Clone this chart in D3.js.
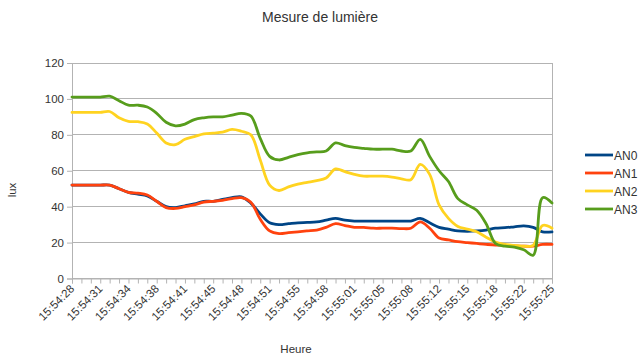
<!DOCTYPE html>
<html><head><meta charset="utf-8">
<script src="https://cdn.jsdelivr.net/npm/d3@7"></script>
<style>body{margin:0;background:#fff}svg{display:block;font-family:"Liberation Sans",Arial,sans-serif}</style>
</head><body><svg id="c" width="642" height="360"></svg>
<script>
const tickLabels = ["15:54:28","15:54:31","15:54:34","15:54:38","15:54:41","15:54:45","15:54:48","15:54:51","15:54:55","15:54:58","15:55:01","15:55:05","15:55:08","15:55:12","15:55:15","15:55:18","15:55:22","15:55:25"];
const seriesNames = ["AN0","AN1","AN2","AN3"];
const seriesColors = ["#004586","#ff420e","#ffd320","#579d1c"];
const an0 = [52,52,52,52,52,50,48,47,46,43,40,39.5,40.5,41.5,43,43,44,45,45.5,42,36,31,30,30.5,31,31.2,31.5,32.5,33.5,32.5,32,32,32,32,32,32,32,33.5,31,28.5,27.5,26.5,26.3,26.5,27,28,28.3,28.8,29.3,28.5,26,26];
const an1 = [52,52,52,52,52,50,48,47.5,46.5,43,39.5,39,40,41,42.5,43,43.5,44.5,45,42.5,33,26.5,25,25.5,26,26.5,27,28.5,30.5,29.5,28.5,28.5,28,28,28,27.8,28,31.5,28,22.5,21.5,20.5,20,19.5,19,18.6,18.5,18.2,18,18,19,19];
const an2 = [92.5,92.5,92.5,92.5,93,89.5,87.5,87.3,86,81,75.5,74.5,77.5,79,80.5,81,81.5,83,82,80,66,52,49,51,52.5,53.5,54.5,56,61,59.5,58,57,57,57,56.5,55.5,55,63.5,58,41,33.5,29,27.5,26,23,20.3,19,18.5,18,18.5,29.5,28];
const an3 = [101,101,101,101,101.5,99,96.5,96.5,95.5,92,87,85,86,88.5,89.5,90,90,91,92,90.5,78,68,66,67.5,69,70,70.5,71,75.5,74,73,72.5,72,72,72,71,71,77.5,68,60,54,44.5,41,38,30.5,19.5,18,17.5,16,13,45,42];
const seriesValues = [an0, an1, an2, an3];

const svg = d3.select("#c");
const L = 72, R = 552, T = 63, B = 278.5;
const n = an0.length;
const x = d3.scaleLinear().domain([0, n - 1]).range([L, R]);
const y = d3.scaleLinear().domain([0, 120]).range([B, T]);
const grid = "#b3b3b3";

// gridlines
svg.append("g").selectAll("line").data(y.ticks(6)).join("line")
  .attr("x1", L).attr("x2", R).attr("y1", d => y(d)).attr("y2", d => y(d))
  .attr("stroke", grid).attr("stroke-width", 1).attr("shape-rendering","crispEdges");
svg.append("line").attr("x1", R).attr("x2", R).attr("y1", T).attr("y2", B)
  .attr("stroke", grid).attr("shape-rendering","crispEdges");

// y axis
const ya = svg.append("g").attr("transform", `translate(${L},0)`)
  .call(d3.axisLeft(y).tickValues([0,20,40,60,80,100,120]).tickSize(5).tickPadding(3));
ya.select(".domain").attr("stroke", grid);
ya.selectAll(".tick line").attr("stroke", grid);
ya.selectAll("text").attr("fill", "#333").attr("font-size", 11.5).attr("font-family", "Liberation Sans, Arial, sans-serif");

// x axis: ticks at every point, labels every 3rd
const xa = svg.append("g").attr("transform", `translate(0,${B})`)
  .call(d3.axisBottom(x).tickValues(d3.range(n)).tickSize(5).tickFormat(""));
xa.select(".domain").attr("stroke", grid);
xa.selectAll(".tick line").attr("stroke", grid);
const labIdx = tickLabels.map((t, i) => i * 3);
svg.append("g").selectAll("text").data(tickLabels).join("text")
  .attr("transform", (d, i) => `translate(${x(labIdx[i]) + 3},${B + 11}) rotate(-45)`)
  .attr("text-anchor", "end").attr("font-size", 11.5).attr("fill", "#333")
  .text(d => d);

// lines
const line = d3.line().x((d, i) => x(i)).y(d => y(d)).curve(d3.curveCatmullRom.alpha(0.5));
svg.append("g").selectAll("path").data(seriesValues).join("path")
  .attr("d", d => line(d)).attr("fill", "none")
  .attr("stroke", (d, i) => seriesColors[i]).attr("stroke-width", 2.8)
  .attr("stroke-linejoin", "round").attr("stroke-linecap", "round");

// title and axis titles
svg.append("text").attr("x", 320).attr("y", 22).attr("text-anchor", "middle")
  .attr("font-size", 14).attr("fill", "#333").text("Mesure de lumière");
svg.append("text").attr("transform", "translate(16,190) rotate(-90)").attr("text-anchor", "middle")
  .attr("font-size", 11.5).attr("fill", "#333").text("lux");
svg.append("text").attr("x", 296).attr("y", 353).attr("text-anchor", "middle")
  .attr("font-size", 11.5).attr("fill", "#333").text("Heure");

// legend
const lg = svg.append("g").selectAll("g").data(seriesNames).join("g")
  .attr("transform", (d, i) => `translate(585,${155 + i * 18})`);
lg.append("line").attr("x1", 0).attr("x2", 28).attr("y1", 0).attr("y2", 0)
  .attr("stroke", (d, i) => seriesColors[i]).attr("stroke-width", 2.8);
lg.append("text").attr("x", 29).attr("y", 4.5).attr("font-size", 12).attr("fill", "#333").text(d => d);
</script></body></html>
